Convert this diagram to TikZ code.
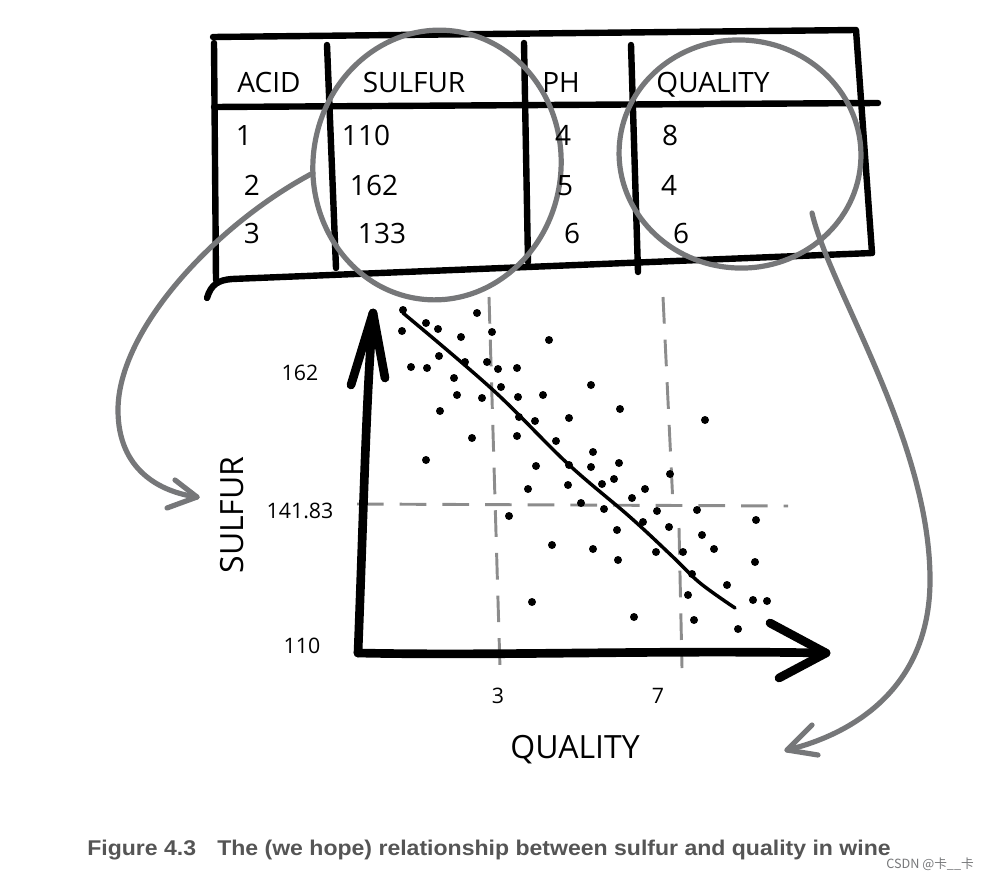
\documentclass[tikz,border=0pt]{standalone}
\usepackage{fontspec}
\setmainfont{Open Sans}
\newfontfamily\capfont[FakeStretch=1.08]{Liberation Sans}
\newfontfamily\cjkfont{Noto Sans CJK SC}
\definecolor{linkgray}{RGB}{118,119,121}
\definecolor{guidegray}{RGB}{140,140,140}
\definecolor{capgray}{RGB}{85,85,85}
\tikzset{
  tbl/.style={line width=4.8pt, line cap=round, line join=round},
  link/.style={color=linkgray, line width=3.9pt, line cap=round, line join=round},
  axis/.style={line width=6.5pt, line cap=round, line join=round},
  guide/.style={color=guidegray, line width=2.2pt, dash pattern=on 20pt off 12pt},
  fitline/.style={line width=2.6pt, line cap=round},
  hand/.style={anchor=base, inner sep=0.75pt, font=\fontsize{21}{21}\selectfont},
  tick/.style={anchor=base, inner sep=0.75pt, font=\fontsize{16}{16}\selectfont},
  axlabel/.style={inner sep=0.75pt, font=\fontsize{24}{24}\selectfont},
  capline/.style={anchor=base west, inner sep=0pt, text=capgray, font=\capfont\bfseries\fontsize{16}{16}\selectfont},
}
\begin{document}
\begin{tikzpicture}[x=0.75pt,y=0.75pt,yscale=-1,xscale=1]
\useasboundingbox (0,0) rectangle (994,881);

%Table frame
\draw [tbl] (213,37) -- (856,30) -- (872,253);
\draw [tbl] (214,43) -- (216,280);
\draw [tbl] (214,107) -- (878,103);
\draw [tbl] (207,298) .. controls (211,284) and (219,280) .. (232,279) -- (872,253);
%Column lines
\draw [tbl] (327,45) -- (336,268);
\draw [tbl] (524,43) -- (528,262);
\draw [tbl] (631,45) -- (638,272);

%Circled columns
\draw [link, rotate around={7:(437,165)}] (437,165) ellipse [x radius=124, y radius=135];
\draw [link, rotate around={5:(740,154)}] (740,154) ellipse [x radius=121, y radius=114];

%Links to the axes
\coordinate (sulfurOut) at (313,173);
\coordinate (sulfurIn) at (197,497);
\coordinate (qualOut) at (812,213);
\coordinate (qualIn) at (787,750);
\draw [link] (sulfurOut) .. controls (215,225) and (118,330) .. (118,410) .. controls (118,470) and (160,492) .. (sulfurIn);
\draw [link] (175,480) -- (sulfurIn) -- (167,508);
\draw [link] (qualOut) .. controls (830,290) and (930,440) .. (930,580) .. controls (930,690) and (850,735) .. (qualIn);
\draw [link] (812,725) -- (qualIn) -- (818,755);

% Text Node
\node [hand] (hAcid) at (269,92) {ACID};
\node [hand] (hSulfur) at (414,92) {SULFUR};
\node [hand] (hPh) at (561,92) {PH};
\node [hand] (hQuality) at (713,92) {QUALITY};
% Text Node
\node [hand] (acidA) at (244,145) {1};
\node [hand] (acidB) at (252,195) {2};
\node [hand] (acidC) at (252,243) {3};
\node [hand] (sulfA) at (366,145) {110};
\node [hand] (sulfB) at (374,195) {162};
\node [hand] (sulfC) at (382,243) {133};
\node [hand] (phA) at (563,145) {4};
\node [hand] (phB) at (565,195) {5};
\node [hand] (phC) at (572,243) {6};
\node [hand] (qualA) at (670,145) {8};
\node [hand] (qualB) at (669,195) {4};
\node [hand] (qualC) at (681,243) {6};

%Guide lines
\draw [guide] (357,504) -- (788,506);
\draw [guide] (489,297) -- (500,668);
\draw [guide] (663,297) -- (673,505) (679,528) -- (682,668);

%Axes
\coordinate (origin) at (358,653);
\coordinate (yTip) at (373,313);
\coordinate (xTip) at (826,653);
\draw [axis] (origin) .. controls (364,500) and (366,400) .. (yTip);
\draw [axis] (351,385) -- (yTip) -- (385,378);
\draw [axis] (origin) .. controls (500,656) and (650,650) .. (xTip);
\draw [axis] (770,623) -- (xTip) -- (779,678);

%Data points
\foreach \px/\py in {403/310, 477/313, 426/323, 438/329, 402/331, 461/337, 492/332, 549/340,
  439/356, 465/362, 487/362, 411/367, 427/368, 498/369, 517/368, 454/378, 501/387, 591/385,
  457/395, 482/398, 518/397, 543/395, 620/409, 440/411, 519/417, 535/421, 569/418, 705/420,
  472/438, 517/436, 556/441, 426/460, 593/452, 536/466, 569/465, 591/467, 619/463, 670/474,
  528/489, 568/485, 602/484, 614/479, 645/489, 632/498, 581/503, 604/509, 657/511, 697/510,
  509/516, 643/522, 669/527, 756/520, 617/530, 702/535, 552/545, 593/549, 656/552, 683/552,
  714/549, 618/560, 755/562, 692/574, 727/585, 688/595, 532/602, 753/600, 767/601, 634/617,
  694/620, 738/629}
  \fill (\px,\py) circle [radius=4];

%Fitted line
\draw [fitline] plot [smooth, tension=0.6] coordinates {(403,313) (493,390) (567,463) (630,517) (673,557) (700,583) (735,608)};

% Text Node
\node [tick] (yHigh) at (300,380) {162};
\node [tick] (yMid) at (300,518) {141.83};
\node [tick] (yLow) at (302,653) {110};
\node [tick] (xLow) at (498,703) {3};
\node [tick] (xHigh) at (658,703) {7};
\node [axlabel, rotate=90] (sulfurLbl) at (232,515) {SULFUR};
\node [axlabel] (qualityLbl) at (575,750) {QUALITY};

% Caption
\node [capline] (figNo) at (87,855) {Figure 4.3};
\node [capline] (figText) at (217,855) {The (we hope) relationship between sulfur and quality in wine};
\node [anchor=west, inner sep=0pt, text=linkgray, font=\cjkfont\fontsize{9.5}{9.5}\selectfont] (mark) at (886,864) {CSDN @卡\_\_卡};
\end{tikzpicture}
\end{document}
